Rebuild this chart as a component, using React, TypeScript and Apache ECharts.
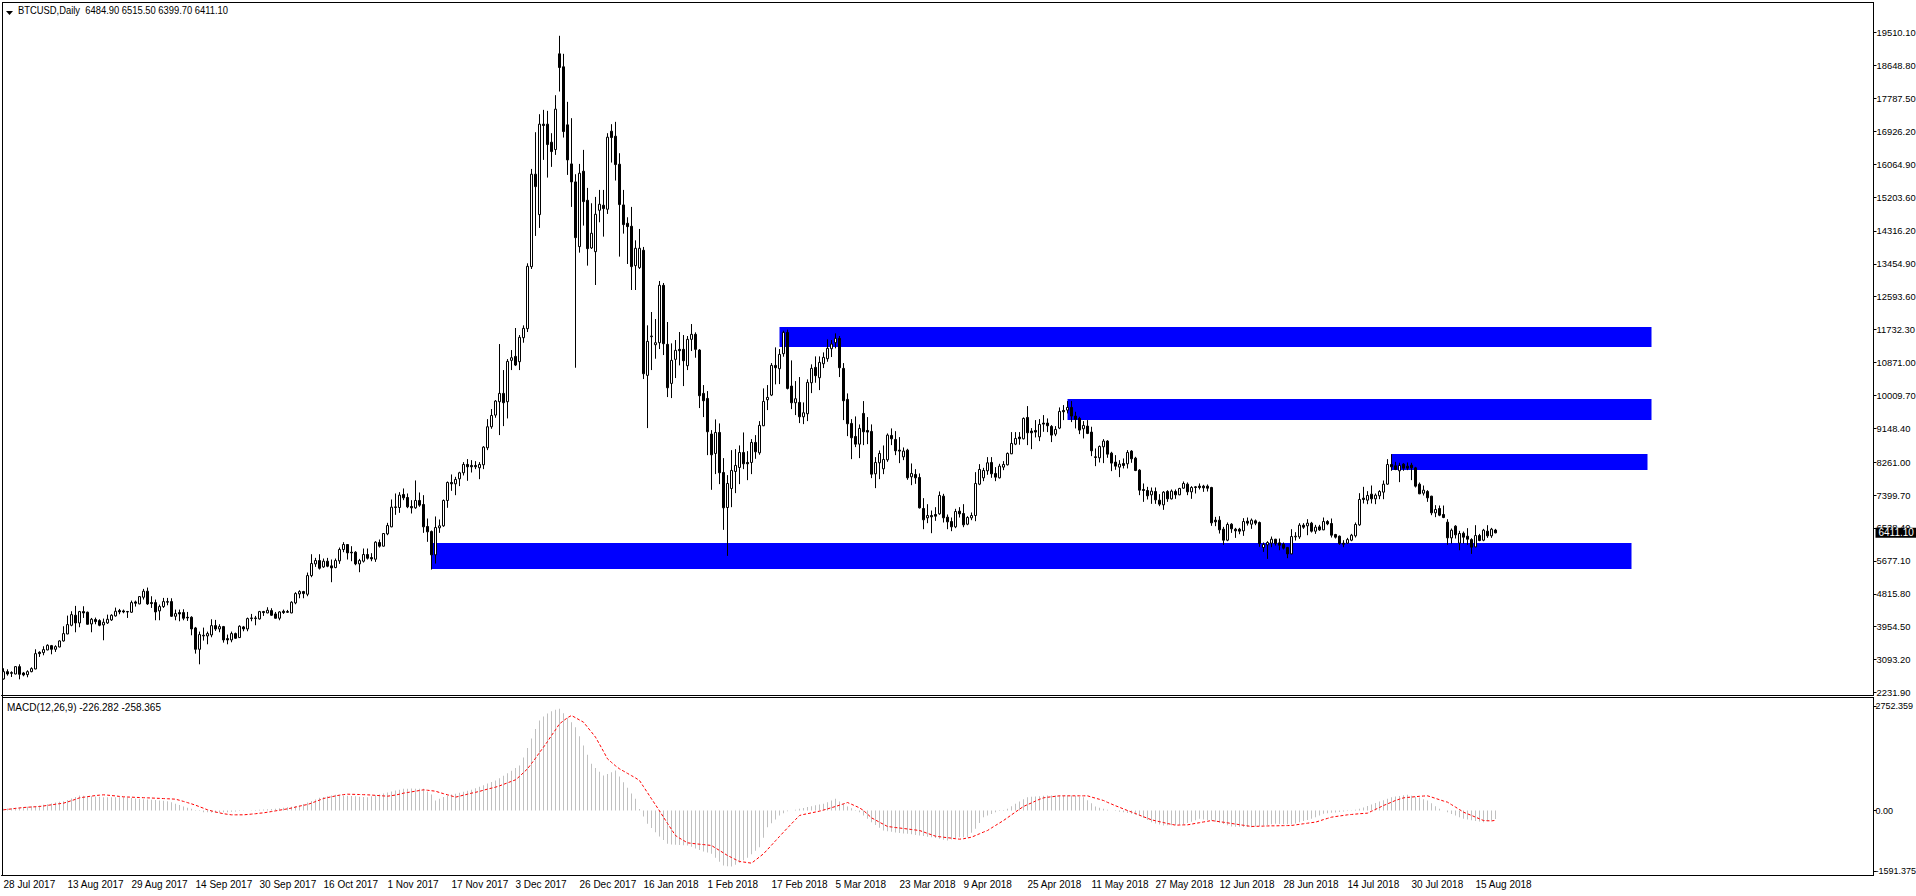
import React, { useEffect, useRef } from "react";
import * as echarts from "echarts";

const dateLabels = [
    "28 Jul 2017", "13 Aug 2017", "29 Aug 2017", "14 Sep 2017", "30 Sep 2017", "16 Oct 2017",
    "1 Nov 2017", "17 Nov 2017", "3 Dec 2017", "26 Dec 2017", "16 Jan 2018", "1 Feb 2018",
    "17 Feb 2018", "5 Mar 2018", "23 Mar 2018", "9 Apr 2018", "25 Apr 2018", "11 May 2018",
    "27 May 2018", "12 Jun 2018", "28 Jun 2018", "14 Jul 2018", "30 Jul 2018", "15 Aug 2018"
];
const TOTAL_SLOTS = 468;
const LABEL_STEP = 16;

const priceTicks = [
    19510.1, 18648.8, 17787.5, 16926.2, 16064.9, 15203.6, 14316.2, 13454.9, 12593.6, 11732.3, 10871.0,
    10009.7, 9148.4, 8261.0, 7399.7, 6538.4, 5677.1, 4815.8, 3954.5, 3093.2, 2231.9
];
const macdTicks = [2752.359, 0, -1591.375];
const lastPrice = 6411.1;

// from bar, to bar, top price, bottom price
const zones = [
    [194, 412, 11800, 11277],
    [266, 412, 9915, 9366],
    [347, 411, 8476, 8057],
    [107, 407, 6146, 5465]
];

const opens = [
    2586,2778,2752,2717,2909,2743,2700,2778,2848,3285,
    3276,3346,3459,3363,3424,3582,3765,3992,4254,4053,
    4350,4333,4027,4141,4114,4001,4053,4132,4237,4376,
    4368,4350,4333,4603,4551,4726,4883,4586,4586,4368,
    4481,4595,4612,4228,4324,4324,4202,4202,3922,3363,
    3713,3713,3739,3983,3896,3957,3643,3608,3774,3669,
    3949,3896,4167,4167,4158,4350,4315,4376,4289,4176,
    4359,4350,4315,4577,4813,4874,4804,5293,5599,5686,
    5520,5669,5547,5503,5678,5975,6106,5905,5905,5599,
    5669,5844,5765,5721,6158,6062,6385,6568,7075,7075,
    7416,7337,7102,7067,7259,7154,6578,6446,5835,6543,
    6595,7259,7730,7695,7826,7984,8202,8176,8176,8115,
    8193,8638,9189,9494,9844,10062,9844,10927,11031,10892,
    11520,11756,13380,15800,14743,17110,17110,16638,16446,18952,
    18612,17092,16070,15599,13905,15878,15118,13870,13773,14856,
    14987,14883,16926,16795,16062,14996,14516,14437,13407,13354,
    13808,10534,11547,11337,11389,12891,11346,10324,10953,11215,
    11215,10787,11477,11608,11197,10062,9931,8997,8490,9040,
    7992,7075,7573,8018,8123,8516,8254,8254,8778,8507,
    9215,9896,10018,10795,10708,11101,11660,10254,9817,9826,
    9450,9529,10341,10743,10472,10839,10970,11232,11389,11503,
    10717,9905,9276,8935,8734,9538,9092,9066,7957,8245,
    8088,8324,8961,8857,8577,8402,8577,7879,7940,7861,
    7049,6804,6865,6892,6909,7372,6822,6708,6569,6979,
    6918,6638,6804,6865,7686,7852,8036,8254,7966,7852,
    8132,8193,8481,8734,8918,8874,9433,9075,9092,8926,
    9285,9285,9197,8996,9154,9616,9625,9695,9468,9407,
    9136,9206,9049,8402,8376,8664,8813,8498,8263,8132,
    8228,8219,8551,8367,8053,7547,7520,7407,7494,7267,
    7145,7494,7302,7494,7407,7581,7686,7485,7616,7634,
    7634,7634,7599,6743,6743,6507,6219,6638,6507,6507,
    6464,6717,6638,6726,6682,6027,6097,6140,6245,6149,
    6114,6027,5861,6306,6306,6612,6595,6665,6455,6568,
    6490,6708,6656,6368,6324,6140,6140,6219,6333,6621,
    7320,7267,7424,7302,7381,7477,7686,8201,8167,8036,
    8210,8158,8184,8114,7686,7450,7494,7372,6935,7049,
    6892,6691,6280,6586,6140,6402,6324,6236,6044,6341,
    6219,6455,6333,6484.9
];
const closes = [
    2778,2717,2735,2909,2708,2691,2778,2857,3250,3250,
    3355,3468,3363,3433,3582,3774,4010,4271,4053,4350,
    4315,4018,4149,4088,3992,4071,4149,4254,4359,4341,
    4341,4341,4586,4569,4743,4883,4551,4560,4341,4481,
    4612,4612,4228,4298,4289,4176,4184,3896,3363,3748,
    3730,3774,3983,3896,3957,3608,3608,3774,3652,3966,
    3896,4167,4184,4184,4350,4324,4385,4254,4176,4341,
    4324,4333,4595,4822,4874,4822,5293,5608,5686,5485,
    5669,5538,5494,5686,5975,6106,5887,5887,5599,5686,
    5844,5747,5730,6167,6062,6394,6603,7084,7092,7398,
    7328,7093,7067,7259,7136,6569,6438,5835,6551,6595,
    7259,7730,7695,7809,7984,8202,8141,8141,8141,8202,
    8656,9189,9485,9861,10062,9818,10900,10996,10804,11529,
    11765,13389,15800,15476,17110,17075,16577,16393,17503,18594,
    16917,16175,15599,14140,15826,15083,13852,14254,14752,15014,
    14900,16769,16760,16053,15005,14481,14428,13381,13861,13861,
    10577,11424,11564,11389,12891,11363,10210,10927,11189,11180,
    10918,11477,11608,11215,10001,9870,9058,8455,9040,7984,
    7067,7704,8045,8176,8516,8219,8219,8778,8534,9224,
    9852,9957,10795,10734,11083,11660,10193,9817,9922,9450,
    9555,10350,10717,10525,10874,11005,11241,11354,11503,10734,
    9870,9267,8900,8734,9145,9057,9049,7948,8254,8490,
    8333,8970,8874,8560,8551,8551,7852,7966,7852,7066,
    6752,6865,6831,6848,7389,6804,6699,6569,6970,6909,
    6621,6813,6865,7704,8071,8044,8245,7957,7870,8158,
    8202,8490,8752,8883,8874,9407,9031,9031,9049,9250,
    9258,9215,8970,9119,9590,9581,9695,9468,9381,9101,
    9223,9014,8560,8385,8673,8813,8472,8237,8158,8210,
    8175,8516,8350,8044,7529,7520,7381,7503,7276,7162,
    7477,7302,7503,7407,7573,7704,7485,7599,7599,7599,
    7590,7581,6673,6700,6490,6219,6630,6516,6464,6455,
    6708,6665,6743,6665,6132,6106,6158,6245,6132,6088,
    6010,5861,6315,6324,6612,6560,6665,6455,6560,6490,
    6708,6647,6350,6298,6132,6114,6236,6350,6630,7285,
    7285,7389,7302,7398,7494,7686,8201,8140,8070,8175,
    8105,8105,8114,7634,7433,7529,7328,6935,7023,6874,
    6813,6280,6481,6359,6394,6298,6245,6036,6341,6210,
    6481,6333,6507,6411.1
];
const highs = [
    2866,2839,2787,2918,2970,2770,2813,2892,3363,3311,
    3442,3494,3477,3468,3599,3966,4245,4359,4499,4368,
    4490,4350,4184,4193,4149,4167,4271,4280,4455,4420,
    4403,4368,4638,4638,4752,4944,4979,4752,4665,4534,
    4708,4708,4699,4403,4403,4411,4341,4228,3949,3826,
    3931,3826,4149,4132,4018,3975,3748,3826,3800,3992,
    3975,4193,4289,4237,4368,4368,4464,4438,4341,4359,
    4403,4394,4621,4857,4909,4892,5372,5852,5756,5852,
    5739,5756,5713,5739,6027,6167,6114,6062,5931,5730,
    6001,6001,5879,6193,6237,6402,6673,7285,7442,7477,
    7573,7442,7267,7783,7468,7398,6787,6473,6840,6761,
    7285,7756,7940,7878,8010,8263,8342,8315,8289,8263,
    8682,9389,9652,9887,11354,10673,10961,11197,11774,11590,
    11844,13468,15939,16900,17371,17485,17459,16874,17869,19424,
    18952,17695,17267,15800,16070,16437,15442,15040,15206,15389,
    15389,16874,17110,17171,16350,15389,14673,14944,14070,14367,
    13896,11844,12193,12009,13005,12953,11931,11372,11459,11669,
    11590,11564,11878,11660,11223,10280,10123,9101,9381,9276,
    8368,7923,8577,8604,8700,9040,8551,8866,8970,9337,
    10193,10280,10856,11267,11223,11704,11730,10926,10385,10490,
    9826,10429,10822,11031,11031,11136,11476,11459,11634,11564,
    10856,10062,9389,9459,9250,9861,9442,9250,8394,8568,
    8699,9014,9145,9075,8918,8647,8612,8228,8079,7966,
    7320,7162,6996,7084,7494,7433,6892,6813,7040,7084,
    7162,6848,6944,8001,8210,8114,8394,8394,8132,8219,
    8289,8516,9049,9049,9049,9433,9730,9154,9363,9389,
    9494,9407,9232,9206,9695,9756,9861,9861,9581,9450,
    9337,9363,9189,8621,8699,8865,8839,8533,8446,8315,
    8359,8577,8577,8402,8079,7704,7616,7599,7599,7424,
    7503,7529,7547,7547,7590,7756,7730,7634,7634,7704,
    7669,7678,7616,6830,6848,6568,6682,6665,6542,6542,
    6796,6813,6787,6761,6708,6158,6193,6315,6254,6263,
    6158,6044,6507,6429,6665,6665,6769,6699,6621,6621,
    6813,6743,6787,6385,6341,6219,6280,6385,6682,7450,
    7616,7503,7651,7442,7529,7782,8341,8472,8271,8245,
    8236,8254,8245,8140,7730,7651,7529,7381,7136,7127,
    7127,6769,6525,6612,6464,6446,6534,6271,6612,6385,
    6516,6612,6542,6515.5
];
const lows = [
    2569,2673,2638,2708,2577,2656,2630,2761,2839,3163,
    3206,3337,3232,3294,3416,3564,3757,3966,3809,3940,
    4184,4010,3809,4018,3966,3599,4027,4106,4219,4280,
    4307,4184,4315,4481,4542,4665,4525,4446,4123,4123,
    4446,4516,4210,4123,4097,4123,4106,3730,3250,2970,
    3591,3494,3678,3844,3809,3538,3494,3547,3634,3660,
    3835,3835,4097,3992,4141,4237,4307,4237,4167,4123,
    4289,4315,4307,4542,4699,4699,4752,5250,5520,5451,
    5494,5512,5119,5485,5599,5905,5713,5669,5564,5381,
    5634,5713,5669,5651,6027,6053,6350,6560,6883,6935,
    7267,7058,6918,7040,7093,6411,6176,5451,5608,6411,
    6569,7067,7512,7398,7635,7914,7774,7991,8080,7817,
    8080,8577,9136,9424,8971,9206,9407,10673,10778,10673,
    11389,11669,13319,14184,14394,16175,15712,15992,16306,17965,
    16760,15782,14944,10734,13747,14455,13407,13843,12900,14542,
    14166,14760,16105,15634,13643,14245,13450,12769,12769,13319,
    10438,9154,10673,10970,11223,11066,9966,9940,10464,10796,
    10254,10673,11171,10996,9678,9442,8446,7538,7949,7687,
    6490,5809,7084,7451,7687,8080,7791,7949,8350,8455,
    9206,9625,9992,10298,10306,11022,10166,9651,9494,9285,
    9258,9337,10070,10341,10149,10725,10891,11014,11241,10490,
    9363,8944,8341,8656,8368,8708,8734,7844,7582,7817,
    7948,8271,8708,8446,8237,8315,7800,7660,7695,7049,
    6507,6665,6403,6726,6883,6682,6507,6455,6534,6813,
    6560,6612,6743,6717,7660,7765,7931,7852,7765,7835,
    8053,8175,8472,8708,8717,8857,8708,8603,8909,8813,
    9057,9049,8787,8944,9127,9363,9538,9311,9145,8996,
    8883,8996,8420,8158,8254,8237,8376,8027,8062,7870,
    8097,8097,8245,8027,7398,7223,7285,7171,7171,7110,
    7014,7223,7285,7302,7398,7564,7398,7302,7442,7547,
    7485,7494,6595,6586,6394,6097,6193,6411,6280,6376,
    6333,6603,6516,6612,6044,5913,5730,6036,6079,5957,
    5975,5748,5852,6210,6254,6516,6350,6420,6385,6464,
    6481,6612,6289,6263,6097,6036,6123,6193,6289,6595,
    7180,7162,7180,7162,7293,7293,7669,8036,8053,7739,
    8036,8053,7791,7599,7424,7389,7223,6874,6822,6848,
    6795,6097,6132,6263,5957,6132,6097,5861,6036,6193,
    6193,6280,6280,6399.7
];

const macdValues = [
    44,52,60,70,80,90,100,110,120,132,
    150,168,188,208,228,246,280,315,355,396,
    390,382,375,368,360,352,352,352,352,352,
    352,340,330,320,310,300,290,282,275,265,
    255,246,215,180,145,106,75,45,15,-15,
    -44,-48,-50,-50,-48,-46,-44,-35,-25,-15,
    -8,0,6,12,18,25,30,38,44,58,
    72,88,102,118,132,170,210,250,290,334,
    355,375,395,414,405,398,390,382,375,365,
    358,352,375,400,425,450,478,502,525,550,
    572,575,578,575,572,572,500,420,264,310,
    355,396,420,445,470,495,520,546,585,625,
    665,710,750,792,850,915,985,1050,1120,1188,
    1400,1650,1900,2150,2376,2480,2560,2620,2660,2684,
    2570,2450,2330,2200,1960,1716,1470,1232,1120,1020,
    924,965,1010,1056,900,748,600,450,308,40,
    -158,-352,-465,-575,-686,-780,-880,-895,-905,-912,
    -918,-924,-960,-1000,-1040,-1080,-1110,-1144,-1250,-1350,
    -1452,-1470,-1478,-1430,-1380,-1315,-1250,-1155,-1060,-968,
    -720,-440,-335,-235,-132,-70,-18,0,20,44,
    65,90,115,140,160,176,220,265,308,240,
    175,106,60,10,-44,-130,-220,-308,-380,-455,
    -528,-545,-560,-580,-595,-605,-616,-630,-645,-660,
    -675,-690,-704,-725,-745,-770,-792,-765,-735,-704,
    -704,-704,-590,-484,-330,-176,-130,-90,-44,-15,
    15,44,110,176,235,295,352,362,370,378,
    388,396,396,396,396,396,396,396,380,365,
    352,270,190,106,75,45,18,0,-15,-30,
    -44,-66,-88,-110,-132,-190,-250,-308,-340,-370,
    -396,-392,-388,-382,-376,-370,-332,-295,-258,-220,
    -235,-250,-264,-295,-325,-355,-390,-422,-428,-432,
    -436,-438,-440,-425,-410,-395,-380,-365,-352,-358,
    -362,-366,-370,-340,-310,-280,-250,-220,-175,-130,
    -88,-75,-62,-50,-38,-26,-10,5,22,44,
    80,118,158,195,235,270,310,352,368,385,
    400,414,390,365,340,300,264,190,115,44,
    0,-44,-90,-130,-175,-220,-240,-258,-276,-292,
    -308,-285,-255,-226.3
];
const signalValues = [
    18,30,42,55,67,79,86,93,99,106,
    120,135,150,165,180,194,225,260,295,334,
    350,365,380,395,405,414,405,395,385,372,
    361,356,352,347,343,338,334,330,325,320,
    315,310,305,299,270,240,208,176,140,100,
    60,18,-10,-40,-62,-85,-100,-114,-114,-114,
    -114,-105,-95,-85,-72,-62,-45,-28,-10,8,
    26,44,65,90,115,138,158,195,235,275,
    317,340,362,385,405,420,431,428,425,422,
    418,414,408,400,393,385,378,392,408,430,
    458,475,492,510,528,546,535,522,510,475,
    445,415,385,352,378,405,430,458,480,505,
    535,565,590,616,650,690,730,770,810,900,
    1000,1100,1240,1380,1530,1672,1820,1980,2130,2288,
    2370,2450,2508,2450,2390,2332,2200,2070,1936,1750,
    1560,1364,1270,1180,1100,1040,980,920,860,792,
    630,470,308,150,-10,-176,-340,-500,-660,-730,
    -790,-854,-866,-878,-890,-900,-912,-924,-990,-1055,
    -1120,-1188,-1240,-1295,-1346,-1360,-1375,-1390,-1310,-1225,
    -1144,-1030,-915,-800,-685,-572,-460,-350,-240,-132,
    -105,-85,-62,-40,-18,12,42,75,106,140,
    175,211,165,118,70,0,-95,-194,-250,-310,
    -365,-422,-435,-450,-462,-475,-488,-502,-515,-528,
    -565,-605,-640,-678,-692,-705,-718,-730,-745,-757,
    -745,-725,-704,-660,-615,-570,-528,-460,-395,-330,
    -264,-190,-115,-40,35,106,155,200,250,295,
    334,350,362,375,387,387,387,387,387,387,
    387,387,355,325,295,264,215,170,125,85,
    40,0,-40,-80,-125,-165,-205,-246,-270,-295,
    -318,-345,-365,-387,-384,-380,-378,-360,-340,-322,
    -302,-285,-264,-280,-295,-310,-326,-342,-358,-375,
    -390,-406,-422,-418,-415,-412,-408,-405,-405,-402,
    -400,-398,-396,-380,-365,-350,-335,-320,-308,-275,
    -240,-208,-176,-160,-145,-130,-114,-105,-95,-85,
    -78,-70,-20,30,80,132,175,220,265,300,
    334,345,355,365,375,382,387,355,320,285,
    250,220,155,90,25,-44,-88,-130,-175,-220,
    -264,-270,-275,-258.4
];

const FONT = "'Liberation Sans', sans-serif";
const isLabelSlot = (i: number) => i % LABEL_STEP === 0 && i / LABEL_STEP < dateLabels.length;

const App: React.FC = () => {
    const chartRef = useRef<HTMLDivElement>(null);

    useEffect(() => {
        if (!chartRef.current) return;
        const chart = echarts.init(chartRef.current, undefined, { renderer: "svg" });

        const categories = Array.from({ length: TOTAL_SLOTS }, (_, i) =>
            isLabelSlot(i) ? dateLabels[i / LABEL_STEP] : ""
        );
        const candles = opens.map((o, i) => [o, closes[i], lows[i], highs[i]]);

        const frame = { stroke: "#000", lineWidth: 1 };

        chart.setOption({
            animation: false,
            backgroundColor: "#fff",
            textStyle: { fontFamily: FONT },
            grid: [
                { left: 1.5, top: 2.5, width: 1872, height: 693, outerBoundsMode: "none" },
                { left: 1.5, top: 697.5, width: 1872, height: 178, outerBoundsMode: "none" }
            ],
            xAxis: [
                {
                    type: "category",
                    gridIndex: 0,
                    data: categories,
                    axisLine: { lineStyle: { color: "#000" } },
                    axisTick: { show: false },
                    axisLabel: { show: false },
                    splitLine: { show: false }
                },
                {
                    type: "category",
                    gridIndex: 1,
                    data: categories,
                    axisLine: { onZero: false, lineStyle: { color: "#000" } },
                    axisTick: {
                        alignWithLabel: true,
                        length: 4,
                        lineStyle: { color: "#000" },
                        interval: (i: number) => isLabelSlot(i)
                    },
                    axisLabel: {
                        interval: (i: number) => isLabelSlot(i),
                        align: "left",
                        margin: 4,
                        color: "#000",
                        fontSize: 10,
                        fontFamily: FONT
                    },
                    splitLine: { show: false }
                }
            ],
            yAxis: [
                {
                    type: "value",
                    gridIndex: 0,
                    position: "right",
                    min: 2153.4,
                    max: 20295.5,
                    axisLine: { show: true, lineStyle: { color: "#000" } },
                    axisTick: { show: true, length: 3, customValues: priceTicks, lineStyle: { color: "#000" } },
                    axisLabel: {
                        customValues: priceTicks,
                        margin: 3,
                        color: "#000",
                        fontSize: 9.4,
                        fontFamily: FONT,
                        formatter: (v: number) => v.toFixed(2)
                    },
                    splitLine: { show: false }
                },
                {
                    type: "value",
                    gridIndex: 1,
                    position: "right",
                    min: -1716,
                    max: 2983.2,
                    axisLine: { show: true, lineStyle: { color: "#000" } },
                    axisTick: { show: true, length: 3, customValues: macdTicks, lineStyle: { color: "#000" } },
                    axisLabel: {
                        customValues: macdTicks,
                        margin: 2,
                        color: "#000",
                        fontSize: 9,
                        fontFamily: FONT,
                        formatter: (v: number) => (v === 0 ? "0.00" : v.toFixed(3))
                    },
                    splitLine: { show: false }
                }
            ],
            series: [
                {
                    name: "BTCUSD",
                    type: "candlestick",
                    xAxisIndex: 0,
                    yAxisIndex: 0,
                    z: 5,
                    barWidth: 3,
                    data: candles,
                    itemStyle: {
                        color: "#fff",
                        color0: "#000",
                        borderColor: "#000",
                        borderColor0: "#000",
                        borderWidth: 1
                    },
                    markArea: {
                        silent: true,
                        itemStyle: { color: "#0000ff", opacity: 1 },
                        data: zones.map(([from, to, top, bottom]) => [
                            { xAxis: from, yAxis: top },
                            { xAxis: to, yAxis: bottom }
                        ])
                    },
                    markLine: {
                        silent: true,
                        symbol: "none",
                        lineStyle: { color: "rgba(0,0,0,0)", width: 0 },
                        label: {
                            position: "end",
                            distance: 2,
                            formatter: () => lastPrice.toFixed(2),
                            color: "#fff",
                            backgroundColor: "#000",
                            padding: [0, 3],
                            fontSize: 10,
                            fontFamily: FONT
                        },
                        data: [{ yAxis: lastPrice }]
                    }
                },
                {
                    name: "MACD",
                    type: "bar",
                    xAxisIndex: 1,
                    yAxisIndex: 1,
                    barWidth: 1,
                    data: macdValues,
                    itemStyle: { color: "#c0c0c0" }
                },
                {
                    name: "Signal",
                    type: "line",
                    xAxisIndex: 1,
                    yAxisIndex: 1,
                    showSymbol: false,
                    data: signalValues,
                    lineStyle: { color: "#ff0000", width: 1, type: [3, 2] }
                }
            ],
            graphic: [
                { type: "line", shape: { x1: 2.5, y1: 2, x2: 2.5, y2: 876 }, style: frame, silent: true },
                { type: "line", shape: { x1: 2, y1: 2.5, x2: 1874, y2: 2.5 }, style: frame, silent: true },
                { type: "line", shape: { x1: 2, y1: 697.5, x2: 1874, y2: 697.5 }, style: frame, silent: true },
                {
                    type: "polygon",
                    shape: { points: [[6, 11], [13, 11], [9.5, 15]] },
                    style: { fill: "#000" },
                    silent: true
                },
                {
                    type: "text",
                    x: 18,
                    y: 5,
                    scaleX: 0.94,
                    style: {
                        text: "BTCUSD,Daily  6484.90 6515.50 6399.70 6411.10",
                        fill: "#000",
                        font: `10px ${FONT}`
                    },
                    silent: true
                },
                {
                    type: "text",
                    x: 7,
                    y: 702,
                    style: {
                        text: "MACD(12,26,9) -226.282 -258.365",
                        fill: "#000",
                        font: `10px ${FONT}`
                    },
                    silent: true
                }
            ]
        });

        return () => {
            chart.dispose();
        };
    }, []);

    return <div ref={chartRef} style={{ position: "fixed", left: 0, top: 0, width: 1916, height: 896 }} />;
};

export default App;
